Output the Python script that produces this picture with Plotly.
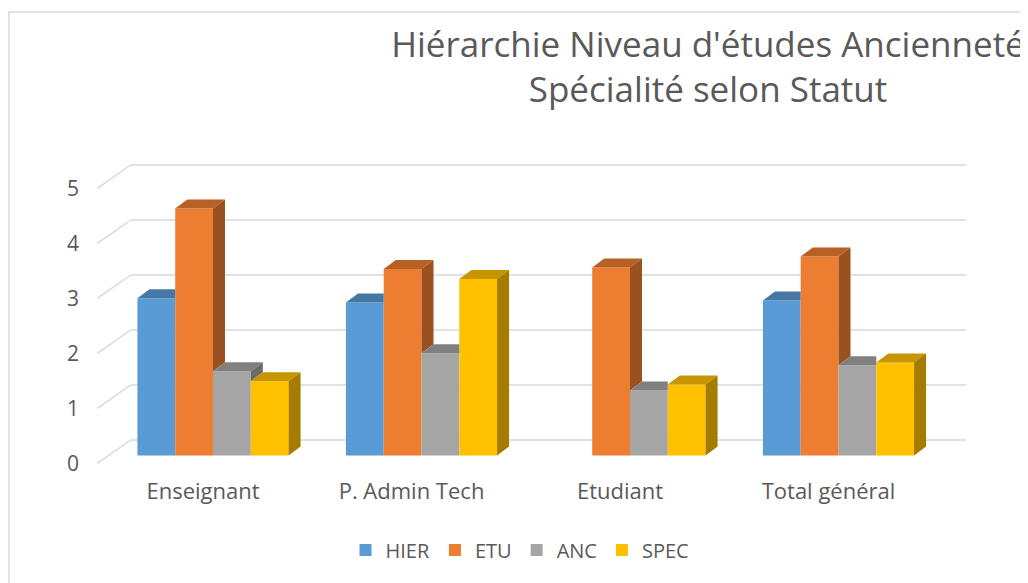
import plotly.graph_objects as go

# ---------------- data ----------------
categories = ["Enseignant", "P. Admin Tech", "Etudiant", "Total général"]
series_names = ["HIER", "ETU", "ANC", "SPEC"]
hier = [2.86, 2.78, None, 2.82]
etu = [4.49, 3.39, 3.42, 3.62]
anc = [1.53, 1.86, 1.18, 1.64]
spec = [1.35, 3.21, 1.29, 1.69]
y_ticks = [0, 1, 2, 3, 4, 5]

series_values = [hier, etu, anc, spec]
colors = ["#5B9BD5", "#ED7D31", "#A5A5A5", "#FFC000"]

# ---------------- geometry (screen pixels -> axis units) ----------------
W, H = 1028, 583
OFF = 8                 # page body margin
L, R = 90, 980          # plot area left/right (screen px)
T, B = 140, 470         # plot area top/bottom (screen px)
kx = 208.5              # px per category
ky = 55.0               # px per value unit
x_left_px = 213         # screen px of first category centre
zero_px = 455.5         # screen px of value 0 at bar front
xr0 = -(x_left_px - L) / kx
xr1 = xr0 + (R - L) / kx
yr0 = -(B - zero_px) / ky
yr1 = yr0 + (B - T) / ky


def xd(px):
    return xr0 + (px - L) / kx


bargap = 0.275
group = 1 - bargap
w = group / len(series_names)
bdx = 12 / kx          # bar depth offset
bdy = 9 / ky
wall_dy = (zero_px - 440) / ky
front_dy = (463.3 - zero_px) / ky


def shade(hexc, f):
    r, g, b = int(hexc[1:3], 16), int(hexc[3:5], 16), int(hexc[5:7], 16)
    return "rgb(%d,%d,%d)" % (r * f, g * f, b * f)


fig = go.Figure()

# front faces (real bars)
xs = list(range(len(categories)))
for name, vals, col in zip(series_names, series_values, colors):
    fig.add_trace(go.Bar(
        x=xs, y=vals, name=name, marker=dict(color=col, line=dict(width=0)),
        hoverinfo="skip",
    ))

# 3D top and side faces
for j, (vals, col) in enumerate(zip(series_values, colors)):
    top_c = shade(col, 0.78)
    side_c = shade(col, 0.65)
    for i in xs:
        v = vals[i]
        if not v:
            continue
        x0 = i - group / 2 + j * w
        x1 = x0 + w
        vn = None
        if j + 1 < len(series_values):
            vn = series_values[j + 1][i] or None
        # top face
        if vn is not None and vn > v:
            tx = [x0, x1, x1, x0 + bdx, x0]
        else:
            tx = [x0, x1, x1 + bdx, x0 + bdx, x0]
        ty = [v, v, v + bdy, v + bdy, v]
        fig.add_trace(go.Scatter(x=tx, y=ty, fill="toself", fillcolor=top_c,
                                 mode="lines", line=dict(width=0),
                                 showlegend=False, hoverinfo="skip"))
        # side face
        base = vn if vn is not None else 0
        if v > base:
            sx = [x1, x1, x1 + bdx, x1 + bdx, x1]
            sy = [base, v, v + bdy, base + bdy, base]
            fig.add_trace(go.Scatter(x=sx, y=sy, fill="toself", fillcolor=side_c,
                                     mode="lines", line=dict(width=0),
                                     showlegend=False, hoverinfo="skip"))

# back-wall gridlines with slanted floor connectors
grid_col = "#D9D9D9"
shapes = []
for k in y_ticks:
    shapes.append(dict(type="line", xref="x", yref="y", layer="below",
                       x0=xd(97.3), y0=k - front_dy, x1=xd(130.7), y1=k + wall_dy,
                       line=dict(color=grid_col, width=1.5)))
    shapes.append(dict(type="line", xref="x", yref="y", layer="below",
                       x0=xd(130.7), y0=k + wall_dy, x1=xd(966), y1=k + wall_dy,
                       line=dict(color=grid_col, width=1.5)))
# chart border
shapes.append(dict(type="rect", xref="paper", yref="paper",
                   x0=(OFF + 1 - L) / (R - L), x1=(1040 - L) / (R - L),
                   y0=(B - 590) / (B - T), y1=(B - 12) / (B - T),
                   line=dict(color="#D9D9D9", width=1.5), layer="below"))

font_family = "Open Sans"
txt_col = "#595959"

fig.update_layout(
    width=W, height=H,
    margin=dict(l=L - OFF, r=W - (R - OFF), t=T - OFF, b=H - (B - OFF), autoexpand=False),
    paper_bgcolor="white", plot_bgcolor="white",
    barmode="group", bargap=bargap, bargroupgap=0,
    title=dict(text="Hiérarchie Niveau d'études Ancienneté<br>Spécialité selon Statut",
               x=(708 - OFF) / W, xanchor="center", y=1 - 48.5 / H, yanchor="middle",
               font=dict(family=font_family, size=35, color=txt_col)),
    xaxis=dict(range=[xr0, xr1], tickvals=[i - 10 / kx for i in xs], ticktext=categories,
               showgrid=False, zeroline=False, showline=False, ticks="",
               ticklabelstandoff=6,
               tickfont=dict(family=font_family, size=22, color=txt_col)),
    yaxis=dict(range=[yr0, yr1], tickvals=[k - front_dy for k in y_ticks],
               ticktext=[str(k) for k in y_ticks],
               showgrid=False, zeroline=False, showline=False, ticks="",
               ticklabelstandoff=10,
               tickfont=dict(family=font_family, size=21, color=txt_col)),
    legend=dict(orientation="h", x=(520 - L) / (R - L), xanchor="center",
                y=(B - 550) / (B - T), yanchor="middle",
                font=dict(family=font_family, size=20, color=txt_col),
                traceorder="normal"),
    shapes=shapes,
)

fig.write_html("out.html")
